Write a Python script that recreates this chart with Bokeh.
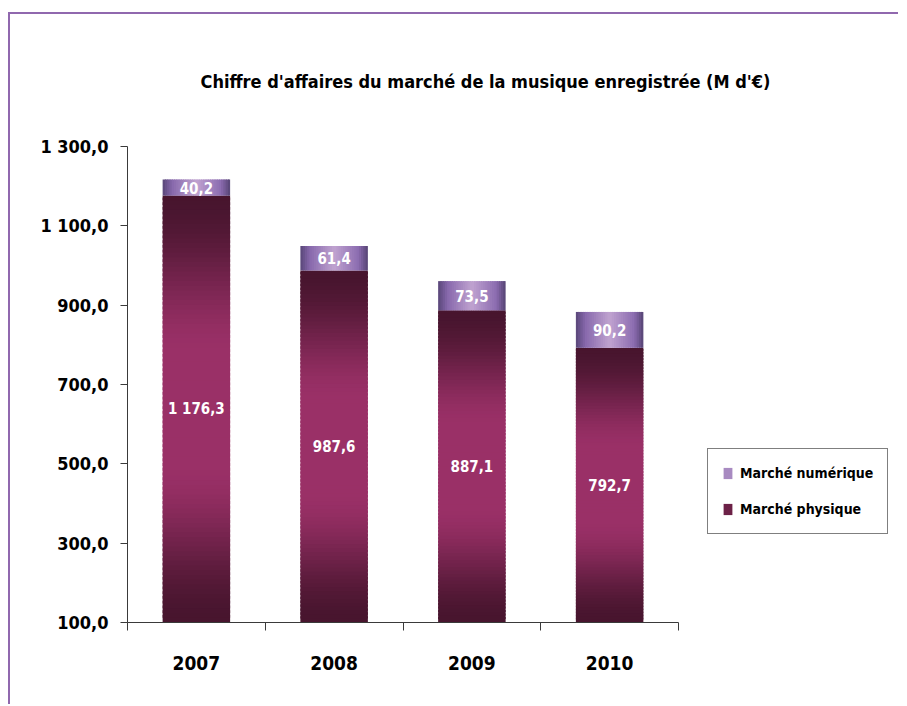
import numpy as np
from bokeh.plotting import figure
from bokeh.models import (Range1d, FixedTicker, ColumnDataSource, Legend, LegendItem, Title)
from bokeh.core.properties import value
from bokeh.embed import file_html
from bokeh.resources import INLINE

# ---- data ----
years = ["2007", "2008", "2009", "2010"]
physique = [1176.3, 987.6, 887.1, 792.7]
numerique = [40.2, 61.4, 73.5, 90.2]
y_ticks = [100, 300, 500, 700, 900, 1100, 1300]
y_tick_labels = ["100,0", "300,0", "500,0", "700,0", "900,0", "1 100,0", "1 300,0"]
title_text = "Chiffre d'affaires du marché de la musique enregistrée (M d'€)"
series_names = ["Marché numérique", "Marché physique"]

FONT = "DejaVu Sans Condensed, Roboto Condensed, Roboto, sans-serif"
Y_MIN, Y_MAX = 100, 1300
BAR_W = 0.49


def fr(v):
    s = f"{v:,.1f}"
    return s.replace(",", " ").replace(".", ",")


def hexc(c):
    return "#%02x%02x%02x" % tuple(int(round(x)) for x in c)


def mix(a, b, f):
    return [a[k] + (b[k] - a[k]) * f for k in range(3)]


DARK_P = (72, 21, 46)
LIGHT_P = (154, 48, 103)
N_P = 90
H_STOPS = [(0.0, (88, 70, 120)), (0.14, (135, 104, 172)), (0.5, (192, 163, 208)),
           (0.86, (140, 108, 176)), (1.0, (86, 68, 116))]
N_H = 30


def hcol(u):
    for (u0, c0), (u1, c1) in zip(H_STOPS[:-1], H_STOPS[1:]):
        if u0 <= u <= u1:
            return mix(c0, c1, (u - u0) / (u1 - u0))
    return H_STOPS[-1][1]


xs = np.arange(1, len(years) + 1)

# physical slices (vertical gradient), each overlapping the next slightly
pl, pr, pb, pt, pc = [], [], [], [], []
for i, v in enumerate(physique):
    edges = np.linspace(Y_MIN, v, N_P + 1)
    step = edges[1] - edges[0]
    for k in range(N_P):
        t = (k + 0.5) / N_P
        s = 1 - abs(2 * t - 1)
        f = min(1.0, s / 0.75)
        f = f * f * (3 - 2 * f)
        pl.append(xs[i] - BAR_W / 2)
        pr.append(xs[i] + BAR_W / 2)
        pb.append(edges[k])
        pt.append(edges[k + 1] + (0.6 * step if k < N_P - 1 else 0))
        pc.append(hexc(mix(DARK_P, LIGHT_P, f)))

# numerique strips (horizontal gradient)
nl, nr, nb, nt, nc = [], [], [], [], []
for i, (v, d) in enumerate(zip(physique, numerique)):
    ed = np.linspace(xs[i] - BAR_W / 2, xs[i] + BAR_W / 2, N_H + 1)
    step = ed[1] - ed[0]
    for k in range(N_H):
        u = (k + 0.5) / N_H
        nl.append(ed[k])
        nr.append(ed[k + 1] + (0.6 * step if k < N_H - 1 else 0))
        nb.append(v)
        nt.append(v + d)
        nc.append(hexc(hcol(u)))

W, H = 890, 692
FL, FB = 117, 608           # frame left / bottom in canvas px
FR = 880                    # frame right (extended to hold the legend)
px_per_cat = 551.0 / len(years)
x_end = 0.5 + (FR - FL) / px_per_cat

p = figure(width=W, height=H, output_backend="svg", toolbar_location=None,
           x_range=Range1d(0.5, x_end), y_range=Range1d(Y_MIN, Y_MAX),
           min_border_left=FL, min_border_right=W - FR, min_border_top=131,
           min_border_bottom=H - FB)
p.styles = {"border-top": "2px solid #9068ae", "border-left": "2px solid #9068ae",
            "margin-top": "12px", "margin-left": "8px"}
p.outline_line_color = None
p.grid.visible = False
p.background_fill_color = "white"
p.border_fill_color = "white"

r_phys = p.quad(left=pl, right=pr, bottom=pb, top=pt, fill_color=pc, line_color=None)
r_num = p.quad(left=nl, right=nr, bottom=nb, top=nt, fill_color=nc, line_color=None)

# value labels
phys_mid = [(Y_MIN + v) / 2 for v in physique]
num_mid = [v + d / 2 for v, d in zip(physique, numerique)]
lab_src = ColumnDataSource(dict(
    x=list(xs) + list(xs),
    y=phys_mid + num_mid,
    t=[fr(v) for v in physique] + [fr(v) for v in numerique]))
p.text(x="x", y="y", text="t", source=lab_src, text_color="white",
       text_font=value(FONT), text_font_style="bold", text_font_size="15px",
       text_align="center", text_baseline="middle")

legend = Legend(items=[LegendItem(label=series_names[0], renderers=[r_num], index=N_H // 3),
                       LegendItem(label=series_names[1], renderers=[r_phys], index=N_P // 6)],
                location=(580, 88), border_line_color="black", border_line_width=1,
                background_fill_alpha=1, padding=14, spacing=16, glyph_width=11,
                glyph_height=14, label_height=20, label_standoff=7,
                label_text_font=FONT, label_text_font_style="bold",
                label_text_font_size="14px", label_text_color="black", margin=0)
p.add_layout(legend)

# axes
AX_COL = "#3a3a3a"
p.yaxis.ticker = FixedTicker(ticks=y_ticks)
p.yaxis.major_label_overrides = {t: l for t, l in zip(y_ticks, y_tick_labels)}
p.yaxis.major_label_text_font = FONT
p.yaxis.major_label_text_font_style = "bold"
p.yaxis.major_label_text_font_size = "18px"
p.yaxis.major_label_text_color = "black"
p.yaxis.major_tick_out = 7
p.yaxis.major_tick_in = 0
p.yaxis.minor_tick_line_color = None
p.yaxis.axis_line_color = AX_COL
p.yaxis.major_tick_line_color = AX_COL
p.yaxis.major_label_standoff = 12

bounds = [x + 0.5 for x in range(0, len(years) + 1)]
p.xaxis.ticker = FixedTicker(ticks=list(xs), minor_ticks=bounds)
p.xaxis.bounds = (bounds[0], bounds[-1])
p.xaxis.major_label_overrides = {int(x): y for x, y in zip(xs, years)}
p.xaxis.major_tick_in = 0
p.xaxis.major_tick_out = 0
p.xaxis.minor_tick_in = 0
p.xaxis.minor_tick_out = 8
p.xaxis.minor_tick_line_color = AX_COL
p.xaxis.axis_line_color = AX_COL
p.xaxis.major_label_text_font = FONT
p.xaxis.major_label_text_font_style = "bold"
p.xaxis.major_label_text_font_size = "19px"
p.xaxis.major_label_text_color = "black"
p.xaxis.major_label_standoff = 25

p.title = Title(text=title_text, align="left", offset=73, standoff=109,
                text_font=FONT, text_font_style="bold", text_font_size="18px",
                text_color="black")

open("out.html", "w").write(file_html(p, INLINE))
